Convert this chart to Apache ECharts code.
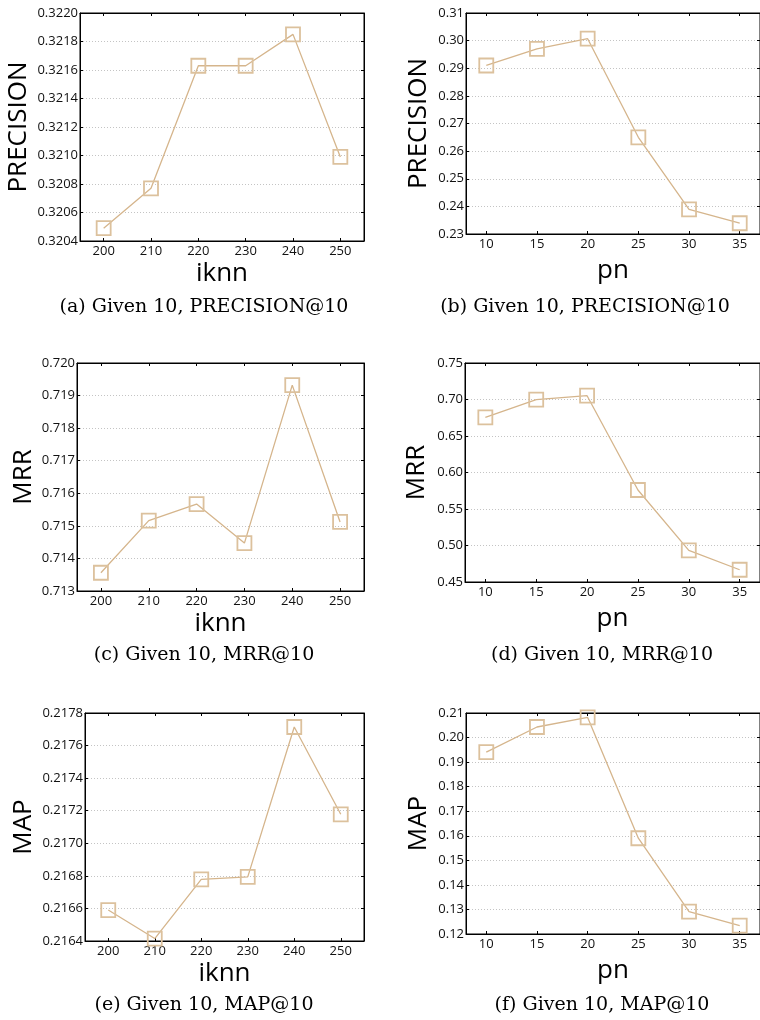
<!DOCTYPE html>
<html>
<head>
<meta charset="utf-8">
<script src="https://cdn.jsdelivr.net/npm/echarts@6/dist/echarts.min.js"></script>
<style>
  html, body { margin: 0; padding: 0; background: #fff; }
  #chart { width: 760px; height: 1020px; }
</style>
</head>
<body>
<div id="chart"></div>
<script>
// x values
const iknnValues = [200, 210, 220, 230, 240, 250];
const pnValues = [10, 15, 20, 25, 30, 35];

// series values
const precisionIknn = [0.32049, 0.32077, 0.32163, 0.32163, 0.32185, 0.32099];
const precisionPn = [0.291, 0.297, 0.3007, 0.265, 0.2389, 0.2339];
const mrrIknn = [0.71356, 0.71516, 0.71567, 0.71447, 0.71932, 0.71512];
const mrrPn = [0.6755, 0.6997, 0.7052, 0.576, 0.4933, 0.4668];
const mapIknn = [0.21659, 0.216415, 0.216778, 0.216794, 0.217714, 0.217178];
const mapPn = [0.1941, 0.2043, 0.2082, 0.159, 0.1291, 0.1234];

const captions = [
  "(a) Given 10, PRECISION@10",
  "(b) Given 10, PRECISION@10",
  "(c) Given 10, MRR@10",
  "(d) Given 10, MRR@10",
  "(e) Given 10, MAP@10",
  "(f) Given 10, MAP@10",
];

const lineColor = "#d5b58c";
const sansFont = "Open Sans";

const panels = [
  { x: iknnValues, y: precisionIknn, xName: "iknn", yName: "PRECISION", xMin: 195, xMax: 255,
    yMin: 0.3204, yMax: 0.322, step: 0.0002, digits: 4,
    left: 80, top: 13, width: 284, height: 228, xGap: 20, yGap: 48, cap: [204, 307] },
  { x: pnValues, y: precisionPn, xName: "pn", yName: "PRECISION", xMin: 8, xMax: 37,
    yMin: 0.23, yMax: 0.31, step: 0.01, digits: 2,
    left: 466, top: 13, width: 297, height: 221, xGap: 24, yGap: 34, cap: [585, 307] },
  { x: iknnValues, y: mrrIknn, xName: "iknn", yName: "MRR", xMin: 195, xMax: 255,
    yMin: 0.713, yMax: 0.72, step: 0.001, digits: 3,
    left: 77, top: 363, width: 287, height: 228, xGap: 20, yGap: 40, cap: [204, 655] },
  { x: pnValues, y: mrrPn, xName: "pn", yName: "MRR", xMin: 8, xMax: 37,
    yMin: 0.45, yMax: 0.75, step: 0.05, digits: 2,
    left: 465, top: 363, width: 298, height: 219, xGap: 24, yGap: 35, cap: [602, 655] },
  { x: iknnValues, y: mapIknn, xName: "iknn", yName: "MAP", xMin: 195, xMax: 255,
    yMin: 0.2164, yMax: 0.2178, step: 0.0002, digits: 4,
    left: 85, top: 713, width: 279, height: 228, xGap: 20, yGap: 48, cap: [204, 1005] },
  { x: pnValues, y: mapPn, xName: "pn", yName: "MAP", xMin: 8, xMax: 37,
    yMin: 0.12, yMax: 0.21, step: 0.01, digits: 2,
    left: 466, top: 713, width: 297, height: 221, xGap: 24, yGap: 34, cap: [602, 1005] },
];

const grid = [];
const xAxis = [];
const yAxis = [];
const series = [];
const graphic = [];

panels.forEach((p, i) => {
  grid.push({
    left: p.left, top: p.top, width: p.width, height: p.height,
    show: true, borderColor: "#000", borderWidth: 1, backgroundColor: "#fff",
  });
  // bottom axis with labels
  xAxis.push({
    gridIndex: i, type: "value", min: p.xMin, max: p.xMax,
    name: p.xName, nameLocation: "middle", nameGap: p.xGap,
    nameTextStyle: { fontFamily: sansFont, fontSize: 26, color: "#000" },
    axisLine: { lineStyle: { color: "#000", width: 1 } },
    axisTick: { inside: true, length: 3, customValues: p.x, lineStyle: { color: "#000" } },
    axisLabel: { customValues: p.x, margin: 4, fontFamily: sansFont, fontSize: 13, color: "#111" },
    splitLine: { show: false },
  });
  // mirrored top axis, ticks only
  xAxis.push({
    gridIndex: i, type: "value", position: "top", min: p.xMin, max: p.xMax,
    axisLine: { lineStyle: { color: "#000", width: 1 } },
    axisTick: { inside: true, length: 3, customValues: p.x, lineStyle: { color: "#000" } },
    axisLabel: { show: false },
    splitLine: { show: false },
  });
  yAxis.push({
    gridIndex: i, type: "value", min: p.yMin, max: p.yMax, interval: p.step,
    name: p.yName, nameLocation: "middle", nameGap: p.yGap, nameRotate: 90,
    nameTextStyle: { fontFamily: sansFont, fontSize: 26, color: "#000" },
    axisLine: { show: true, lineStyle: { color: "#000", width: 1 } },
    axisTick: { show: true, inside: true, length: 3, lineStyle: { color: "#000" } },
    axisLabel: {
      margin: 2, fontFamily: sansFont, fontSize: 13, color: "#111",
      formatter: (v) => v.toFixed(p.digits),
    },
    splitLine: { show: true, lineStyle: { color: "#c4c4c4", type: [1, 2], width: 1 } },
  });
  yAxis.push({
    gridIndex: i, type: "value", position: "right", min: p.yMin, max: p.yMax, interval: p.step,
    axisLine: { show: true, lineStyle: { color: "#000", width: 1 } },
    axisTick: { show: true, inside: true, length: 3, lineStyle: { color: "#000" } },
    axisLabel: { show: false },
    splitLine: { show: false },
  });
  series.push({
    type: "line",
    xAxisIndex: i * 2,
    yAxisIndex: i * 2,
    data: p.x.map((xv, k) => [xv, p.y[k]]),
    symbol: "rect",
    symbolSize: 14,
    lineStyle: { color: lineColor, width: 1.3 },
    itemStyle: { color: "rgba(0,0,0,0)", borderColor: "#dcc19d", borderWidth: 1.8 },
    emphasis: { disabled: true },
    animation: false,
    z: 3,
  });
  graphic.push({
    type: "text",
    x: p.cap[0], y: p.cap[1],
    style: {
      text: captions[i],
      fill: "#000",
      font: "19px 'DejaVu Serif', serif",
      textAlign: "center",
      textVerticalAlign: "middle",
    },
  });
});

const chart = echarts.init(document.getElementById("chart"), null, { renderer: "canvas" });
chart.setOption({
  backgroundColor: "#fff",
  animation: false,
  grid, xAxis, yAxis, series, graphic,
});
</script>
</body>
</html>
